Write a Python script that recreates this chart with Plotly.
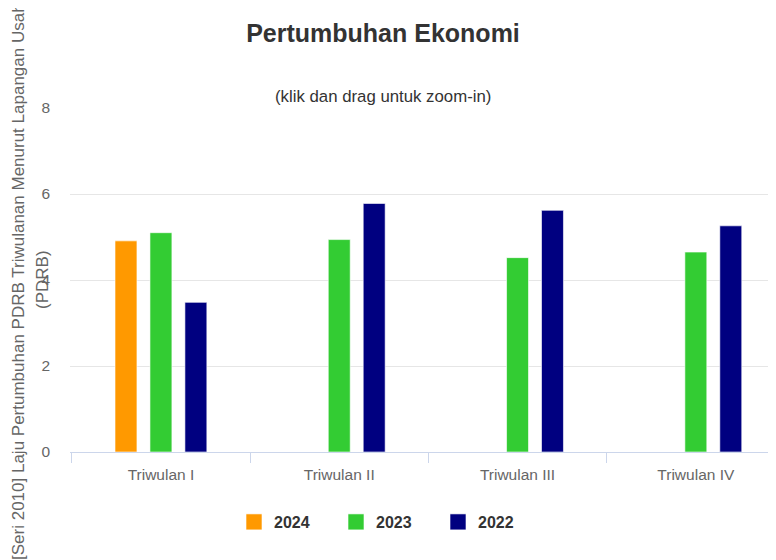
import plotly.graph_objects as go

categories = ["Triwulan I", "Triwulan II", "Triwulan III", "Triwulan IV"]
series_names = ["2024", "2023", "2022"]
values_2024 = [4.91, None, None, None]
values_2023 = [5.10, 4.94, 4.52, 4.65]
values_2022 = [3.48, 5.78, 5.62, 5.26]
colors = ["#FF9900", "#33CC33", "#000080"]
y_ticks = [0, 2, 4, 6, 8]

FONT = "Liberation Sans, Arial, Helvetica, sans-serif"

# page body has an 8px margin; figure coords = page coords - 8
W, H = 768, 552
L, T, B = 62, 100, 108
PW, PH = W - L, H - T - B

fig = go.Figure()
for name, vals, col in zip(series_names, [values_2024, values_2023, values_2022], colors):
    fig.add_trace(go.Bar(
        name=name, x=categories, y=vals, legendgroup=name, showlegend=False,
        marker=dict(color=col, line=dict(color="rgba(255,255,255,0.6)", width=1)),
    ))
# legend entries with larger square swatches
for name, col in zip(series_names, colors):
    fig.add_trace(go.Scatter(
        name=name, x=[None], y=[None], mode="markers", legendgroup=name, showlegend=True,
        marker=dict(symbol="square", size=16, color=col, line=dict(color="rgba(255,255,255,0.6)", width=1)),
    ))

def px(xp):
    return (xp - 8 - L) / PW

def py(yp):
    return (H - B - (yp - 8)) / PH

fig.update_layout(
    width=W, height=H,
    margin=dict(l=L, r=0, t=T, b=B),
    paper_bgcolor="white", plot_bgcolor="white",
    font=dict(family=FONT, color="#666666"),
    barmode="group", bargap=0.412, bargroupgap=0.372,
    title=dict(text="<b>Pertumbuhan Ekonomi</b>", x=(383 - 8) / W, xref="container", xanchor="center",
               y=1 - (33 - 8) / H, yanchor="middle", yref="container",
               font=dict(size=25, color="#333333", family=FONT)),
    showlegend=True,
    legend=dict(orientation="h", x=px(387), xanchor="center", y=py(522), yanchor="middle",
                font=dict(size=16, color="#333333", family=FONT, weight="bold"),
                entrywidth=57, entrywidthmode="pixels", traceorder="normal"),
    xaxis=dict(range=[-0.51, 3.5 - 9 / 178.5], showline=True, linecolor="#ccd6eb", linewidth=1,
               ticks="outside", tickson="boundaries", ticklen=10, tickcolor="#ccd6eb",
               ticklabelstandoff=8,
               tickfont=dict(size=15.5, color="#666666"), showgrid=False, fixedrange=True),
    yaxis=dict(range=[0, 8], tickvals=y_ticks, showgrid=True, gridcolor="#e6e6e6", gridwidth=1,
               zeroline=False, showline=False, tickfont=dict(size=15.5, color="#666666"),
               ticklabelstandoff=19),
    annotations=[
        dict(text="(klik dan drag untuk zoom-in)", xref="paper", yref="paper",
             x=px(383), y=py(97), xanchor="center", yanchor="middle",
             showarrow=False, font=dict(size=16.8, color="#333333", family=FONT)),
        dict(text="[Seri 2010] Laju Pertumbuhan PDRB Triwulanan Menurut Lapangan Usaha",
             xref="paper", yref="paper", x=px(18), y=py(277), xanchor="center", yanchor="middle",
             textangle=-90, showarrow=False, font=dict(size=17, color="#666666", family=FONT)),
        dict(text="(PDRB)",
             xref="paper", yref="paper", x=px(42), y=py(280), xanchor="center", yanchor="middle",
             textangle=-90, showarrow=False, font=dict(size=17, color="#666666", family=FONT)),
    ],
)

fig.write_html("out.html")
